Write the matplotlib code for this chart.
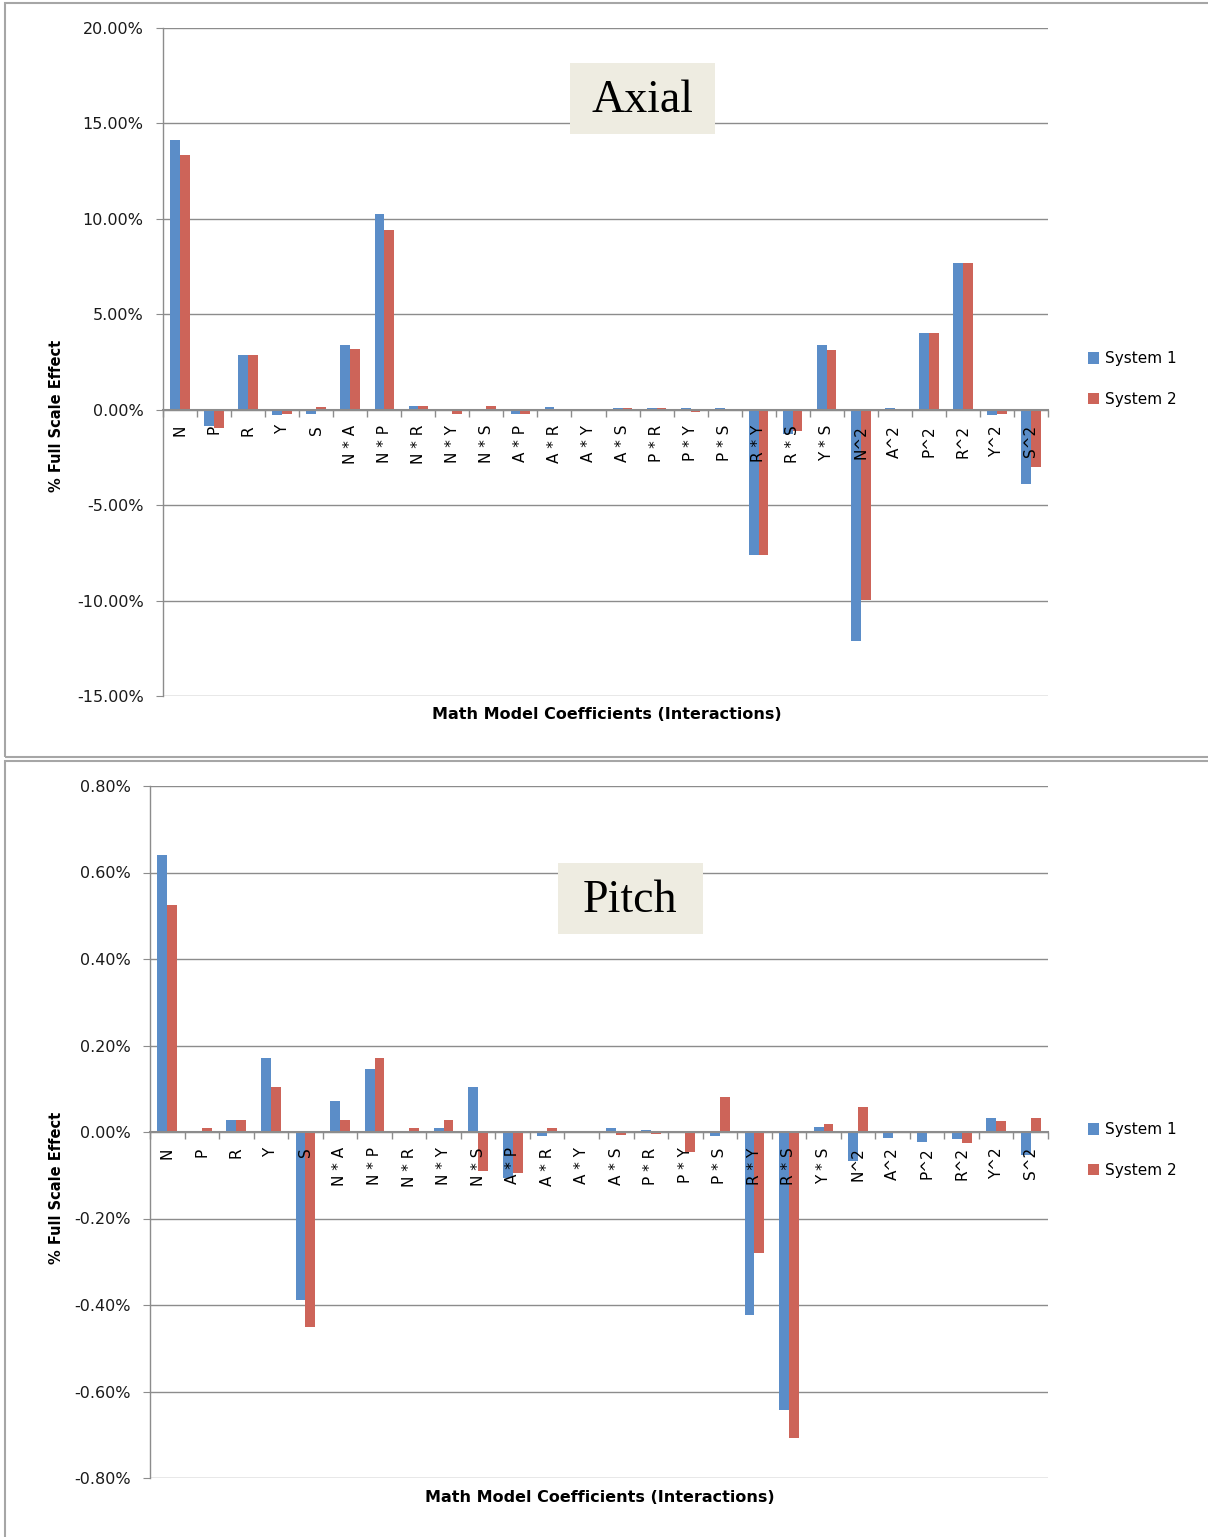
import matplotlib
matplotlib.use("Agg")
import matplotlib.pyplot as plt
from matplotlib.patches import Rectangle
from matplotlib.ticker import FixedLocator, FuncFormatter
import numpy as np

categories = ["N", "P", "R", "Y", "S", "N * A", "N * P", "N * R", "N * Y", "N * S",
              "A * P", "A * R", "A * Y", "A * S", "P * R", "P * Y", "P * S",
              "R * Y", "R * S", "Y * S", "N^2", "A^2", "P^2", "R^2", "Y^2", "S^2"]

axial_sys1 = [14.15, -0.84, 2.88, -0.30, -0.22, 3.40, 10.27, 0.20, 0.0, 0.0,
              -0.20, 0.12, 0.0, 0.10, 0.10, 0.10, 0.10,
              -7.60, -1.25, 3.40, -12.10, 0.10, 4.04, 7.70, -0.30, -3.88]
axial_sys2 = [13.36, -0.94, 2.88, -0.22, 0.12, 3.20, 9.43, 0.20, -0.22, 0.20,
              -0.20, 0.0, 0.0, 0.10, 0.10, -0.10, 0.0,
              -7.60, -1.13, 3.14, -9.96, 0.0, 4.04, 7.70, -0.20, -2.99]

pitch_sys1 = [0.640, 0.0, 0.028, 0.171, -0.388, 0.072, 0.146, 0.0, 0.010, 0.104,
              -0.106, -0.010, 0.0, 0.010, 0.005, 0.0, -0.010,
              -0.423, -0.643, 0.012, -0.066, -0.014, -0.022, -0.017, 0.033, -0.054]
pitch_sys2 = [0.525, 0.010, 0.028, 0.104, -0.450, 0.028, 0.171, 0.010, 0.028, -0.090,
              -0.094, 0.010, 0.0, -0.008, -0.005, -0.047, 0.082,
              -0.280, -0.707, 0.018, 0.058, 0.0, 0.0, -0.026, 0.026, 0.033]

series_names = ["System 1", "System 2"]
axial_yticks = [-15, -10, -5, 0, 5, 10, 15, 20]
pitch_yticks = [-0.8, -0.6, -0.4, -0.2, 0.0, 0.2, 0.4, 0.6, 0.8]

BLUE = "#5B8DC8"
RED = "#CD6459"
GRID = "#8C8C8C"

W, H = 1208, 1537
fig = plt.figure(figsize=(W / 100, H / 100), dpi=100)
fig.patch.set_facecolor("white")

def fx(px):
    return px / W

def fy(py):
    return 1 - py / H

# panel borders
fig.patches.append(Rectangle((fx(5), fy(757)), fx(1215) - fx(5), fy(3) - fy(757),
                             transform=fig.transFigure, fill=False,
                             edgecolor="#A6A6A6", linewidth=1.5))
fig.patches.append(Rectangle((fx(5), fy(1545)), fx(1215) - fx(5), fy(761) - fy(1545),
                             transform=fig.transFigure, fill=False,
                             edgecolor="#A6A6A6", linewidth=1.5))


def make_panel(left, right, top, bottom, s1, s2, yticks, fmt, title, title_box,
               ylabel_pos, xlabel_pos, legend_y):
    ax = fig.add_axes([fx(left), fy(bottom), fx(right) - fx(left), fy(top) - fy(bottom)])
    ax.set_axisbelow(False)
    x = np.arange(len(categories))
    w = 0.2857
    b1 = ax.bar(x - w / 2, s1, w, color=BLUE, label=series_names[0], zorder=1)
    b2 = ax.bar(x + w / 2, s2, w, color=RED, label=series_names[1], zorder=1)
    ax.set_xlim(-0.5, len(categories) - 0.5)
    ax.set_ylim(yticks[0], yticks[-1])
    ax.set_yticks(yticks)
    ax.yaxis.set_major_formatter(FuncFormatter(fmt))
    for yv in yticks:
        ax.axhline(yv, color=GRID, linewidth=1.0, zorder=0.5)
    for s in ["top", "right"]:
        ax.spines[s].set_visible(False)
    ax.spines["left"].set_color(GRID)
    ax.spines["left"].set_linewidth(1.0)
    ax.spines["bottom"].set_position(("data", 0))
    ax.spines["bottom"].set_color(GRID)
    ax.spines["bottom"].set_linewidth(1.5)
    ax.tick_params(axis="y", length=5, color=GRID, labelsize=11.5, pad=9, labelcolor="#1a1a1a")
    ax.set_xticks(x)
    ax.set_xticklabels(categories, rotation=90, fontsize=11, va="top", ha="center")
    ax.tick_params(axis="x", which="major", length=0, pad=11)
    ax.xaxis.set_minor_locator(FixedLocator(np.arange(-0.5, len(categories), 1.0)))
    ax.tick_params(axis="x", which="minor", length=5, color=GRID, width=1.0)

    # title box
    bx0, by0, bx1, by1 = title_box
    fig.patches.append(Rectangle((fx(bx0), fy(by1)), fx(bx1) - fx(bx0), fy(by0) - fy(by1),
                                 transform=fig.transFigure, facecolor="#EEECE1",
                                 edgecolor="none", zorder=5))
    fig.text(fx((bx0 + bx1) / 2), fy((by0 + by1) / 2 + 2), title, ha="center", va="center",
             fontsize=33, family="Liberation Serif", color="black", zorder=6)

    fig.text(fx(ylabel_pos[0]), fy(ylabel_pos[1]), "% Full Scale Effect", rotation=90,
             ha="center", va="center", fontsize=10.5, fontweight="bold")
    fig.text(fx(xlabel_pos[0]), fy(xlabel_pos[1]), "Math Model Coefficients (Interactions)",
             ha="center", va="center", fontsize=11.5, fontweight="semibold")

    fig.legend(handles=[b1, b2], labels=series_names, loc="center left",
               bbox_to_anchor=(fx(1080), fy(legend_y)), frameon=False,
               fontsize=11, handlelength=0.75, handleheight=0.75, handletextpad=0.4,
               labelspacing=1.65, borderpad=0)
    return ax


make_panel(163, 1048, 28, 696, axial_sys1, axial_sys2, axial_yticks,
           lambda v, p: f"{v:.2f}%", "Axial", (570, 63, 715, 134),
           (57, 416), (607, 714), 379)
make_panel(150, 1048, 786, 1478, pitch_sys1, pitch_sys2, pitch_yticks,
           lambda v, p: f"{v:.2f}%", "Pitch", (558, 863, 703, 934),
           (57, 1188), (600, 1498), 1150)

fig.savefig("out.png", dpi=100, facecolor="white")
